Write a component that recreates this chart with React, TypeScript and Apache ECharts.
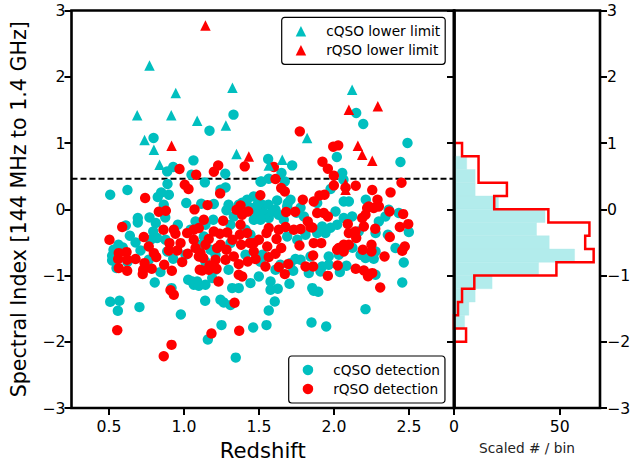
import React, { useEffect, useRef } from "react";
import * as echarts from "echarts";

const FONT = "DejaVu Sans";
const CYAN = "#00bfbf";
const RED = "#ff0000";

const cqsoLimits = [[.77,2.17],[.945,1.755],[1.323,1.835],[.688,1.417],[.915,1.417],[1.088,1.337],[1.279,1.266],[.737,1.045],[.799,.899],[.837,.672],[1.35,.834],[2.121,1.805],[1.821,1.076],[1.655,.748],[1.565,.662]];
const rqsoLimits = [[1.143,2.772],[.917,.959],[1.432,.798],[2.099,1.503],[2.292,1.553],[2.159,.959],[2.188,.823],[2.255,.733],[2.077,.385],[2.077,.295]];

const cqsoDetections = [[.797,1.076],[1.17,1.186],[1.33,1.428],[1.063,.737],[.928,.637],[.888,.571],[1.05,.521],[1.275,.536],[.89,.381],[1.139,.405],[.508,.219],[.623,.29],[.848,.254],[.825,.184],[.899,.219],[1.277,.329],[1.243,.295],[1.51,.415],[1.015,.094],[1.115,.083],[1.199,.079],[.865,.068],[1.465,.193],[1.421,.144],[1.388,.098],[1.283,-.015],[1.561,.758],[1.721,.662],[1.65,.547],[1.565,.461],[1.517,.42],[1.672,.42],[2.49,1.0],[2.443,.713],[2.148,1.453],[2.195,1.287],[2.019,.789],[2.055,.547],[1.977,.305],[2.065,.118],[2.099,.118],[2.212,.144],[1.71,.144],[1.692,.094],[1.621,.133],[1.521,.068],[2.063,.446],
[.692,-.133],[.692,-.199],[.77,-.124],[.812,-.208],[.612,-.245],[.875,-.124],[.795,-.335],[.821,-.435],[.959,-.234],[.639,-.4],[.677,-.502],[.592,-.577],[.71,-.622],[.521,-.702],[.521,-.773],[.55,-.888],[.765,-.763],[.928,-.748],[.843,-.949],[.805,-1.106],[1.028,-1.065],[1.055,-1.091],[1.088,-1.091],[.917,-1.19],[1.077,-.184],[.888,-.637],
[1.195,-.159],[1.332,-.109],[1.365,.068],[1.488,-.057],[1.532,-.057],[1.61,-.008],[1.465,-.159],[1.565,-.133],[1.665,-.159],[1.799,-.109],[1.688,.042],[1.688,-.411],[1.755,-.461],[1.132,-.411],[1.31,-.511],[1.743,-.752],[1.71,-.813],[1.843,-.713],[1.832,-.964],[1.728,-.929],[1.499,-1.015],[1.443,-1.115],[1.321,-1.19],[1.365,-1.19],[1.577,-1.091],[1.703,-1.125],[1.577,-1.216],[1.625,-1.201],[1.855,-1.19],[1.895,-1.246],[1.141,-1.382],[1.065,-1.14],[1.099,-1.156],[1.143,-1.14],[1.188,-1.039],
[1.888,.094],[2.01,-.033],[2.365,-.008],[2.343,-.109],[2.432,-.057],[2.499,-.344],[2.359,-.385],[2.065,-.133],[2.121,-.109],[2.021,-.234],[2.299,-.184],[2.277,-.36],[1.921,-.26],[1.943,-.36],[1.888,-.36],[2.41,-.586],[2.277,-.637],[2.177,-.687],[2.21,-.737],[2.265,-.748],[2.465,-.804],[1.965,-.713],[1.921,-.864],[1.965,-.838],[2.083,-.853],[2.039,-.949],[1.91,-.94],[2.277,-.989],[2.455,-1.106],[2.032,-.687],[2.165,-.335],[2.21,-1.508],[1.85,-1.71],[1.948,-1.77],[1.865,-1.231],
[1.41,-.31],[1.21,-.687],[1.523,-.687],[1.043,-.31],[1.143,-.793],[1.643,-.838],[1.297,-.914],
[1.443,.023],[1.49,.068],[1.563,.068],[1.59,-.038],[1.51,-.159],[1.41,-.038],[1.63,-.083],[1.75,-.053],[1.777,.023],[1.297,.068],[1.357,-.038],
[.53,-.612],[.563,-.536],[.623,-.793],[.777,-.461],[.877,-.461],[1.01,-.687],[1.11,-.536],[1.177,-.612],[1.21,-.914],[1.41,-.687],[1.51,-.793],[1.61,-.914],[1.81,-.385],[1.977,-.279],[2.123,-.582],[1.143,-.234],[1.31,-.234],[1.443,-.385],[1.777,-.763],
[.508,-1.397],[.57,-1.382],[.559,-1.533],[.703,-1.477],[.979,-1.589],[1.243,-1.367],[1.265,-1.408],[1.31,-1.447],[1.605,-1.393],[1.565,-1.529],[1.55,-1.749],[1.461,-1.785],[1.25,-1.749],[1.159,-1.967],[1.345,-2.239]];

const rqsoDetections = [[.97,.607],[1.228,.662],[1.199,.566],[1.405,.647],[1.081,.521],[1.005,.37],[1.03,.305],[1.241,.239],[.741,.169],[1.157,.063],[1.07,-.002],[1.377,.057],[1.35,-.008],[1.509,.211],[.832,-.038],[.879,-.023],[1.428,-.033],[1.772,1.175],[2.028,.964],[1.995,.944],[1.923,.718],[1.959,.612],[1.999,.506],[1.999,.36],[2.45,.4],[2.145,.355],[2.255,.29],[2.377,.254],[2.29,.144],[1.599,.637],[1.61,.456],[1.648,.32],[1.672,.269],[1.792,.144],[1.937,.219],[1.903,.208],[1.865,.118],[2.077,.325],[2.232,.042],[2.299,.042],[2.221,.018],[2.265,.018],[2.37,-.033],[2.461,-.073],[1.888,-.057],[1.932,-.057],[1.959,-.109],[2.21,-.083],[2.188,-.133],[2.199,-.26],[2.092,-.224],[2.495,-.224],[2.439,-.269],[2.275,-.295],[2.372,-.42],[2.143,-.335],[2.099,-.36],[2.148,-.435],[1.855,-.275],[1.865,-.511],[1.915,-.511],[2.065,-.536],[2.099,-.536],[2.032,-.586],[2.065,-.637],[2.021,-.612],[2.192,-.612],[2.25,-.536],[2.25,-.637],[2.337,-.713],[2.472,-.562],[2.455,-.627],[1.861,-.698],[1.861,-.864],[2.025,-.849],[1.959,-1.005],[2.145,-.899],[2.199,-.924],[2.255,-.964],[2.227,-1.012],[2.308,-1.181],
[.588,-.269],[.503,-.461],[.863,-.31],[.732,-.42],[.932,-.31],[.943,-.37],[.765,-.562],[.903,-.511],[.977,-.511],[.899,-.622],[.955,-.622],[.565,-.662],[.617,-.647],[.561,-.752],[.621,-.763],[.677,-.752],[.799,-.662],[.815,-.722],[1.025,-.672],[.988,-.798],[.737,-.813],[.868,-.838],[.565,-.888],[.621,-.929],[.728,-.914],[.785,-.899],[.725,-.979],[.919,-.929],[.91,-1.221],[.932,-1.292],[1.021,-.36],[1.065,-.31],[1.099,-.284],[1.065,-.461],[1.077,-.586],[1.099,-.713],[1.105,-.914],
[1.388,-.083],[1.132,-.159],[1.261,-.174],[1.377,-.234],[1.681,-.042],[1.741,-.038],[1.825,-.184],[1.843,-.269],[1.199,-.335],[1.239,-.37],[1.288,-.35],[1.165,-.45],[1.372,-.385],[1.421,-.36],[1.565,-.284],[1.55,-.36],[1.632,-.31],[1.677,-.269],[1.732,-.31],[1.777,-.299],[1.617,-.45],[1.465,-.511],[1.499,-.461],[1.381,-.536],[1.439,-.511],[1.555,-.562],[1.77,-.547],[1.243,-.536],[1.221,-.586],[1.283,-.612],[1.465,-.637],[1.648,-.586],[1.61,-.672],[1.565,-.722],[1.332,-.713],[1.277,-.763],[1.365,-.828],[1.425,-.789],[1.477,-.752],[1.543,-.864],[1.632,-.873],[1.695,-.828],[1.672,-.979],[1.121,-.924],[1.17,-.849],[1.217,-.899],[1.165,-.914],[1.23,-1.091],[1.365,-.989],[1.388,-1.015],[1.81,-.864],[1.11,-.662],[1.128,-.737],[1.143,-.536],[1.21,-.763],[1.323,-.461],
[1.337,-1.412],[1.183,-1.876],[1.368,-1.835],[.555,-1.825],[.917,-2.047],[.865,-2.218]];

const histLowerEdges = [.8,.6,.4,.2,0,-.2,-.4,-.6,-.8,-1,-1.2,-1.4,-1.6,-1.8,-2];
const cqsoHist = [0,6,10,10,21,43,39,45,57,40,18,10,7,5,0];
const rqsoHist = [3.8,11.6,11.6,25,19,44.6,64,62,66,48.4,9.6,3.8,1.9,0,5.7];
const limitLine = 0.46;
const BIN = 0.2;

const xTicks = ["0.5", "1.0", "1.5", "2.0", "2.5"];
const labelMinus = (v: number) => String(v).replace("-", "\u2212");

const LEFT = 71.5, MID = 454, RIGHT = 600, TOP = 10.5, BOTTOM = 408;

function redOutline() {
  const pts: number[][] = [[0, histLowerEdges[0] + BIN]];
  rqsoHist.forEach((c, i) => {
    const lo = histLowerEdges[i];
    pts.push([c, lo + BIN], [c, lo]);
  });
  pts.push([0, histLowerEdges[histLowerEdges.length - 1]]);
  return pts;
}

export default function App() {
  const ref = useRef<HTMLDivElement>(null);
  useEffect(() => {
    const chart = echarts.init(ref.current!, null, { renderer: "svg" });
    const tick = { show: true, length: 7, lineStyle: { color: "#000", width: 2 } };
    const label = { color: "#000", fontFamily: FONT, fontSize: 15.7 };
    const legendBase = {
      orient: "vertical", itemWidth: 10.5, itemHeight: 10.5, itemGap: 5,
      backgroundColor: "#fff", borderColor: "#000", borderWidth: 1.2, borderRadius: 3,
      textStyle: { color: "#000", fontFamily: FONT, fontSize: 13.7, padding: [0, 0, 0, 15] },
      z: 20,
    };
    chart.setOption({
      animation: false,
      backgroundColor: "#fff",
      grid: [
        { left: LEFT, top: TOP, width: MID - LEFT, height: BOTTOM - TOP, outerBoundsMode: "none", show: true, borderColor: "#000", borderWidth: 2.6, backgroundColor: "transparent" },
        { left: MID, top: TOP, width: RIGHT - MID, height: BOTTOM - TOP, outerBoundsMode: "none", show: true, borderColor: "#000", borderWidth: 2.6, backgroundColor: "transparent" },
      ],
      xAxis: [
        {
          type: "value", gridIndex: 0, position: "bottom", min: 0.25, max: 2.8, splitLine: { show: false },
          axisLine: { show: false, onZero: false }, axisTick: { ...tick, customValues: xTicks.map(Number) },
          axisLabel: { ...label, margin: 10, customValues: xTicks.map(Number), formatter: (v: number) => v.toFixed(1) },
          name: "Redshift", nameLocation: "middle", nameGap: 32,
          nameTextStyle: { color: "#000", fontFamily: FONT, fontSize: 21.2 },
        },
        {
          type: "value", gridIndex: 1, position: "bottom", min: 0, max: 69, splitLine: { show: false },
          axisLine: { show: false, onZero: false }, axisTick: { ...tick, customValues: [0, 50] },
          axisLabel: { ...label, margin: 10, customValues: [0, 50] },
          name: "Scaled # / bin", nameLocation: "middle", nameGap: 33,
          nameTextStyle: { color: "#222", fontFamily: FONT, fontSize: 13.7 },
        },
      ],
      yAxis: [
        {
          type: "value", gridIndex: 0, min: -3, max: 3, interval: 1, splitLine: { show: false },
          axisLine: { show: false, onZero: false }, axisTick: tick,
          axisLabel: { ...label, margin: 6, formatter: labelMinus },
          name: "Spectral Index [144 MHz to 1.4 GHz]", nameLocation: "middle", nameGap: 42,
          nameTextStyle: { color: "#000", fontFamily: FONT, fontSize: 20.6 },
        },
        {
          type: "value", gridIndex: 1, min: -3, max: 3, interval: 1, position: "left", splitLine: { show: false },
          axisLine: { show: true, onZero: false, lineStyle: { color: "#000", width: 2.6 } }, axisTick: tick,
          axisLabel: { show: false }, z: 10,
        },
        {
          type: "value", gridIndex: 1, min: -3, max: 3, interval: 1, position: "right", splitLine: { show: false },
          axisLine: { show: false, onZero: false }, axisTick: tick,
          axisLabel: { ...label, margin: 7, formatter: labelMinus },
        },
      ],
      legend: [
        { ...legendBase, left: 281.7, top: 17.3, padding: [7, 5, 7, 14], data: ["cQSO lower limit", "rQSO lower limit"] },
        { ...legendBase, left: 288.7, top: 356, padding: [7, 5, 7, 14], data: ["cQSO detection", "rQSO detection"] },
      ],
      series: [
        {
          type: "line", name: "limit", xAxisIndex: 0, yAxisIndex: 0, showSymbol: false, symbol: "none", silent: true,
          data: [[0.25, limitLine], [2.8, limitLine]],
          lineStyle: { color: "#000", width: 2, type: [6, 3] },
          z: 1,
        },
        { type: "scatter", name: "cQSO detection", xAxisIndex: 0, yAxisIndex: 0, symbol: "circle", symbolSize: 10.4, data: cqsoDetections, itemStyle: { color: CYAN, opacity: 1 }, z: 2 },
        { type: "scatter", name: "rQSO detection", xAxisIndex: 0, yAxisIndex: 0, symbol: "circle", symbolSize: 10.4, data: rqsoDetections, itemStyle: { color: RED, opacity: 1 }, z: 3 },
        { type: "scatter", name: "cQSO lower limit", xAxisIndex: 0, yAxisIndex: 0, symbol: "triangle", symbolSize: 10.5, data: cqsoLimits, itemStyle: { color: CYAN, opacity: 1 }, z: 4 },
        { type: "scatter", name: "rQSO lower limit", xAxisIndex: 0, yAxisIndex: 0, symbol: "triangle", symbolSize: 10.5, data: rqsoLimits, itemStyle: { color: RED, opacity: 1 }, z: 5 },
        {
          type: "custom", name: "cQSO histogram", xAxisIndex: 1, yAxisIndex: 1, z: 2,
          data: cqsoHist.map((c, i) => [c, histLowerEdges[i], histLowerEdges[i] + BIN]),
          encode: { x: 0, y: [1, 2] },
          renderItem: (_p: any, api: any) => {
            const a = api.coord([0, api.value(2)]);
            const b = api.coord([api.value(0), api.value(1)]);
            return { type: "rect", shape: { x: a[0], y: a[1], width: b[0] - a[0], height: b[1] - a[1] }, style: { fill: "#b2ecec", stroke: "#b2ecec", lineWidth: 0.4 } };
          },
        },
        {
          type: "line", name: "rQSO histogram", xAxisIndex: 1, yAxisIndex: 1, symbol: "none", showSymbol: false,
          data: redOutline(), lineStyle: { color: RED, width: 2.5, join: "miter" }, z: 3, clip: false,
        },
      ],
    });
    return () => chart.dispose();
  }, []);
  return <div ref={ref} style={{ position: "fixed", left: 0, top: 0, width: 638, height: 463 }} />;
}
